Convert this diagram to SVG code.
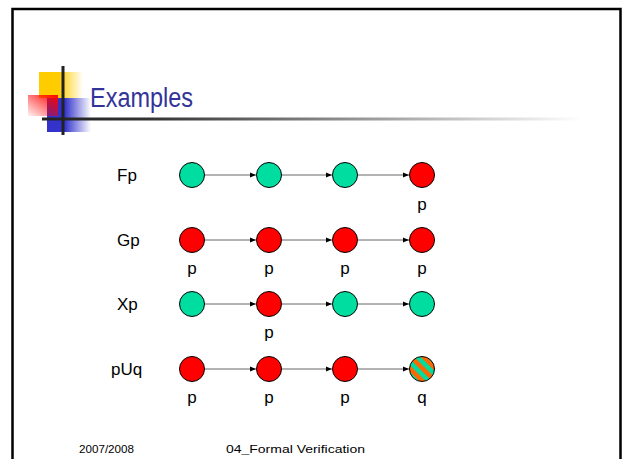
<svg xmlns="http://www.w3.org/2000/svg" width="622" height="459" viewBox="0 0 622 459">
<defs>
<style>
.lbl{font-family:"Liberation Sans",Arial,sans-serif;font-size:17px;fill:#000}
.st{font-family:"Liberation Sans",Arial,sans-serif;font-size:17px;fill:#000;text-anchor:middle}
.g{fill:#00DDA0;stroke:#000;stroke-width:1}
.r{fill:#FF0000;stroke:#000;stroke-width:1}
.ft{font-family:"Liberation Sans",Arial,sans-serif;font-size:11px;fill:#000}
.ar{stroke:#666;stroke-width:1;fill:none;marker-end:url(#ah)}
</style>
<marker id="ah" viewBox="0 0 6 6" refX="6" refY="3" markerWidth="6" markerHeight="6" markerUnits="userSpaceOnUse" orient="auto">
<path d="M0,0.5 L6,3 L0,5.5 Z" fill="#000"/>
</marker>
<linearGradient id="yel" x1="0" y1="0" x2="1" y2="0">
<stop offset="0" stop-color="#FFCC00"/><stop offset="0.45" stop-color="#FFCC00"/><stop offset="1" stop-color="#FFCC00" stop-opacity="0"/>
</linearGradient>
<linearGradient id="red" x1="1" y1="0" x2="0" y2="1">
<stop offset="0" stop-color="#FF0000"/><stop offset="1" stop-color="#FF0000" stop-opacity="0.05"/>
</linearGradient>
<linearGradient id="blu" x1="0" y1="0" x2="1" y2="0">
<stop offset="0" stop-color="#3333CC"/><stop offset="0.4" stop-color="#3333CC"/><stop offset="1" stop-color="#3333CC" stop-opacity="0"/>
</linearGradient>
<linearGradient id="hl" x1="0" y1="0" x2="1" y2="0">
<stop offset="0" stop-color="#222"/><stop offset="0.2" stop-color="#333"/><stop offset="1" stop-color="#FFF"/>
</linearGradient>
<pattern id="stripe" width="9" height="9" patternUnits="userSpaceOnUse" patternTransform="rotate(-45)">
<rect width="9" height="9" fill="#00DDA0"/><rect width="4.5" height="9" fill="#FF6600"/>
</pattern>
</defs>
<rect width="622" height="459" fill="#fff"/>
<path d="M12.5,459 V9 H620.5 V459" fill="none" stroke="#000" stroke-width="2.5"/>
<g id="logo">
<rect x="39" y="72" width="44" height="26" fill="url(#yel)"/>
<rect x="47" y="98" width="44" height="34" fill="url(#blu)"/>
<rect x="28" y="95" width="30" height="21" fill="url(#red)"/>
<rect x="42" y="117.5" width="540" height="3" fill="url(#hl)"/>
<rect x="61.5" y="66" width="3" height="69" fill="#222"/>
</g>
<text x="90" y="107" font-family="'Liberation Sans',Arial,sans-serif" font-size="27" fill="#333399" textLength="103" lengthAdjust="spacingAndGlyphs">Examples</text>
<g id="connectors">
<path class="ar" d="M205,175 H256"/><path class="ar" d="M282,175 H332"/><path class="ar" d="M358,175 H409"/>
<path class="ar" d="M205,240 H256"/><path class="ar" d="M282,240 H332"/><path class="ar" d="M358,240 H409"/>
<path class="ar" d="M205,304 H256"/><path class="ar" d="M282,304 H332"/><path class="ar" d="M358,304 H409"/>
<path class="ar" d="M205,369 H256"/><path class="ar" d="M282,369 H332"/><path class="ar" d="M358,369 H409"/>
</g>
<g id="row-Fp">
<text class="lbl" x="117" y="181">Fp</text>
<circle id="f1" class="g" cx="192" cy="175" r="12.5"/>
<circle id="f2" class="g" cx="269" cy="175" r="12.5"/>
<circle id="f3" class="g" cx="345" cy="175" r="12.5"/>
<circle id="f4" class="r" cx="422" cy="175" r="12.5"/>
<text class="st" x="422" y="210">p</text>
</g>
<g id="row-Gp">
<text class="lbl" x="117" y="246">Gp</text>
<circle id="g1" class="r" cx="192" cy="240" r="12.5"/>
<circle id="g2" class="r" cx="269" cy="240" r="12.5"/>
<circle id="g3" class="r" cx="345" cy="240" r="12.5"/>
<circle id="g4" class="r" cx="422" cy="240" r="12.5"/>
<text class="st" x="192" y="274">p</text><text class="st" x="269" y="274">p</text><text class="st" x="345" y="274">p</text><text class="st" x="422" y="274">p</text>
</g>
<g id="row-Xp">
<text class="lbl" x="117" y="310">Xp</text>
<circle id="x1" class="g" cx="192" cy="304" r="12.5"/>
<circle id="x2" class="r" cx="269" cy="304" r="12.5"/>
<circle id="x3" class="g" cx="345" cy="304" r="12.5"/>
<circle id="x4" class="g" cx="422" cy="304" r="12.5"/>
<text class="st" x="269" y="338">p</text>
</g>
<g id="row-pUq">
<text class="lbl" x="111" y="375">pUq</text>
<circle id="u1" class="r" cx="192" cy="369" r="12.5"/>
<circle id="u2" class="r" cx="269" cy="369" r="12.5"/>
<circle id="u3" class="r" cx="345" cy="369" r="12.5"/>
<circle id="u4" cx="422" cy="369" r="12.5" fill="url(#stripe)" stroke="#000" stroke-width="1"/>
<text class="st" x="192" y="403">p</text><text class="st" x="269" y="403">p</text><text class="st" x="345" y="403">p</text><text class="st" x="422" y="403">q</text>
</g>
<text class="ft" x="79" y="453" textLength="55" lengthAdjust="spacingAndGlyphs">2007/2008</text>
<text class="ft" x="226" y="453" textLength="139" lengthAdjust="spacingAndGlyphs">04_Formal Verification</text>
</svg>
